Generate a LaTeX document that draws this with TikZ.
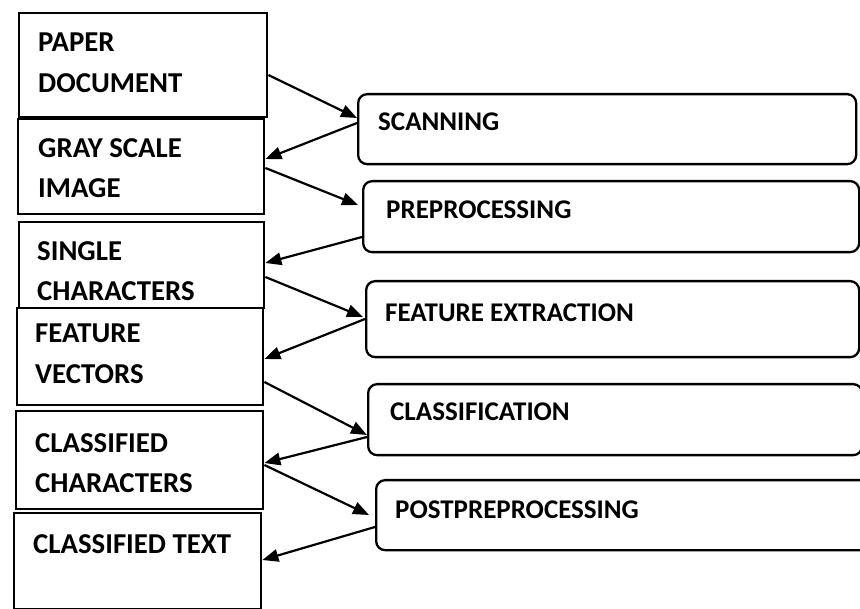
\documentclass[tikz,border=0pt]{standalone}
\usepackage{fontspec}
\setmainfont{Carlito}
\usetikzlibrary{arrows.meta,calc}
\begin{document}
\begin{tikzpicture}[x=1pt,y=-1pt,
  sbox/.style={draw, line width=2.4pt, rectangle, inner sep=0pt, anchor=north west},
  rbox/.style={draw, line width=2.3pt, rectangle, rounded corners=9pt, inner sep=0pt, anchor=north west},
  ltext/.style={font=\fontsize{28.8}{40.5}\selectfont\bfseries, align=left, inner sep=0pt, anchor=north west},
  rtext/.style={font=\fontsize{27}{32}\selectfont\bfseries, inner sep=0pt, anchor=west},
  flow/.style={line width=2.2pt, -{Triangle[length=16pt,width=12.5pt]}}
]
\useasboundingbox (0,0) rectangle (860,609);
\clip (0,0) rectangle (860,609);
\fill[white] (0,0) rectangle (860,609);

% left boxes
\node[sbox, minimum width=248pt, minimum height=104pt] (b1) at (18,12) {};
\node[sbox, minimum width=246pt, minimum height=95pt]  (b2) at (17,118) {};
\node[sbox, minimum width=245pt, minimum height=86pt]  (b3) at (18,221) {};
\node[sbox, minimum width=246pt, minimum height=97pt]  (b4) at (16,307) {};
\node[sbox, minimum width=247pt, minimum height=98pt]  (b5) at (15,410) {};
\node[sbox, minimum width=247pt, minimum height=96pt]  (b6) at (13,512) {};

% left texts
\node[ltext] (t1) at (38,33)  {PAPER\\DOCUMENT};
\node[ltext] (t2) at (38,138) {GRAY SCALE\\IMAGE};
\node[ltext] (t3) at (37,241) {SINGLE\\CHARACTERS};
\node[ltext] (t4) at (35,324) {FEATURE\\VECTORS};
\node[ltext] (t5) at (35,433) {CLASSIFIED\\CHARACTERS};
\node[ltext] (t6) at (33,534) {CLASSIFIED TEXT};

% right boxes
\node[rbox, minimum width=498pt, minimum height=70pt] (r1) at (357,93)  {};
\node[rbox, minimum width=496pt, minimum height=71pt] (r2) at (362,180) {};
\node[rbox, minimum width=493pt, minimum height=76pt] (r3) at (365,280) {};
\node[rbox, minimum width=494pt, minimum height=71pt] (r4) at (367,383) {};
\node[rbox, minimum width=500pt, minimum height=70pt] (r5) at (375,479) {};

% right texts
\node[rtext] (s1) at (378,122) {SCANNING};
\node[rtext] (s2) at (386,210) {PREPROCESSING};
\node[rtext] (s3) at (385,313) {FEATURE EXTRACTION};
\node[rtext] (s4) at (390,412) {CLASSIFICATION};
\node[rtext] (s5) at (395,510) {POSTPREPROCESSING};

% arrows
\draw[flow] ([yshift=-63pt]b1.north east) -- ([yshift=-25pt]r1.north west);
\draw[flow] ([yshift=-30pt]r1.north west) -- ([yshift=-41pt]b2.north east);
\draw[flow] ([yshift=-50pt]b2.north east) -- ([yshift=-25pt,xshift=-4pt]r2.north west);
\draw[flow] ([yshift=-57pt]r2.north west) -- ([yshift=-42pt]b3.north east);
\draw[flow] ([yshift=-56pt]b3.north east) -- ([yshift=-37pt,xshift=-2pt]r3.north west);
\draw[flow] ([yshift=-39pt]r3.north west) -- ([yshift=-52pt]b4.north east);
\draw[flow] ([yshift=-75pt]b4.north east) -- ([yshift=-52pt]r4.north west);
\draw[flow] ([yshift=-54pt]r4.north west) -- ([yshift=-53pt]b5.north east);
\draw[flow] ([yshift=-55pt]b5.north east) -- ([yshift=-36pt,xshift=-6pt]r5.north west);
\draw[flow] ([yshift=-48pt]r5.north west) -- ([yshift=-48pt]b6.north east);
\end{tikzpicture}
\end{document}
